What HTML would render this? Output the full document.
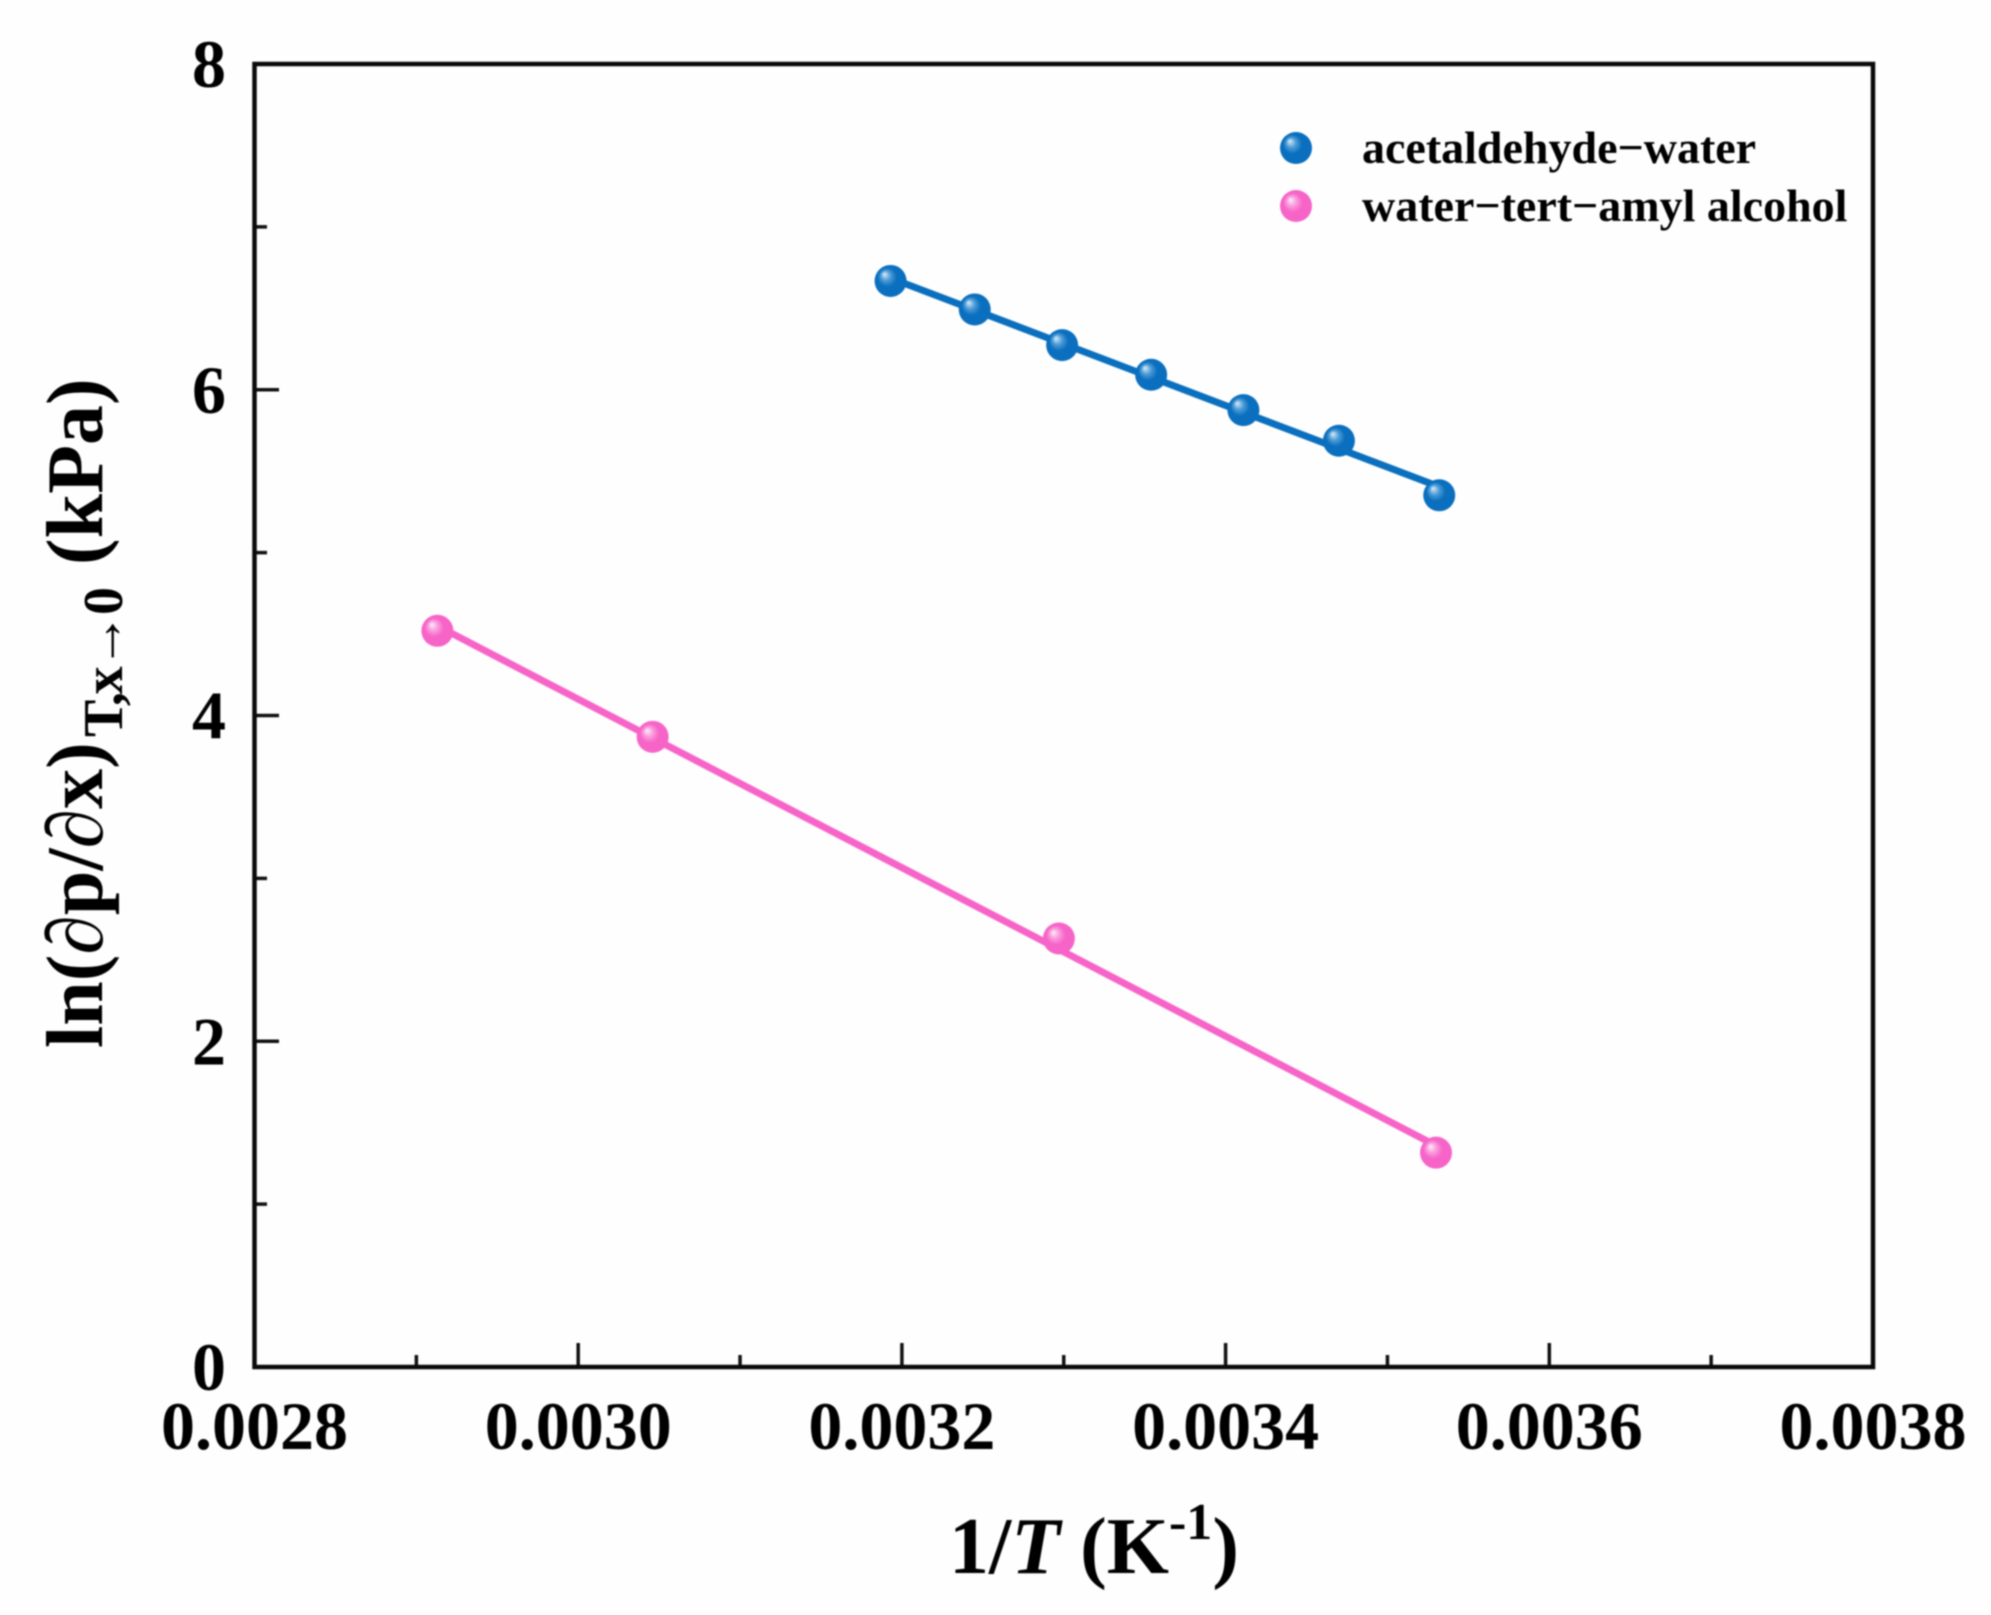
<!DOCTYPE html>
<html lang="en">
<head>
<meta charset="utf-8">
<title>ln(∂p/∂x) vs 1/T</title>
<style>
html,body{margin:0;padding:0;background:#fefefe;}
svg{display:block;width:1991px;height:1615px;filter:blur(0.8px);}
text{font-family:"Liberation Serif",serif;font-weight:bold;fill:#000;}
</style>
</head>
<body>
<svg id="chart" xmlns="http://www.w3.org/2000/svg" width="1991" height="1615" viewBox="0 0 1991 1615">
  <defs>
    <radialGradient id="blue-ball" cx="0.5" cy="0.5" fx="0.3" fy="0.28" r="0.62">
      <stop offset="0" stop-color="#dceefa"/>
      <stop offset="0.25" stop-color="#4d9bd6"/>
      <stop offset="0.48" stop-color="#0a6fbe"/>
      <stop offset="1" stop-color="#0a6fbe"/>
    </radialGradient>
    <radialGradient id="pink-ball" cx="0.5" cy="0.5" fx="0.32" fy="0.3" r="0.62">
      <stop offset="0" stop-color="#fdeef9"/>
      <stop offset="0.25" stop-color="#fa9adc"/>
      <stop offset="0.48" stop-color="#f764c8"/>
      <stop offset="1" stop-color="#f764c8"/>
    </radialGradient>
  </defs>
  <rect width="1991" height="1615" fill="#fefefe"/>
  <g id="ticks"></g>
  <g id="series"></g>
  <rect x="254.5" y="64" width="1618.5" height="1303" fill="none" stroke="#0a0a0a" stroke-width="4.5"/>
  <g id="tick-labels" font-size="68"></g>

  <text x="949" y="1573" font-size="80">1/<tspan font-style="italic">T</tspan> (K<tspan font-size="52" dy="-34">-1</tspan><tspan dy="34">)</tspan></text>

  <g transform="translate(102,1048) rotate(-90)">
    <text x="0" y="0" font-size="80">ln(<tspan font-style="italic">∂</tspan>p/<tspan font-style="italic">∂</tspan>x)</text>
    <text x="311" y="20" font-size="56" textLength="150" lengthAdjust="spacing">T,x→0</text>
    <text x="483" y="0" font-size="80">(kPa)</text>
  </g>

  <g>
    <circle cx="1296" cy="148" r="16" fill="url(#blue-ball)"/>
    <text x="1362" y="163" font-size="46">acetaldehyde−water</text>
    <circle cx="1296" cy="206" r="16" fill="url(#pink-ball)"/>
    <text x="1362" y="221" font-size="46">water−tert−amyl alcohol</text>
  </g>
</svg>
<script>
const xTickValues = [0.0028, 0.0030, 0.0032, 0.0034, 0.0036, 0.0038];
const xTickLabels = ["0.0028", "0.0030", "0.0032", "0.0034", "0.0036", "0.0038"];
const xMinorValues = [0.0029, 0.0031, 0.0033, 0.0035, 0.0037];
const yTickValues = [0, 2, 4, 6, 8];
const yTickLabels = ["0", "2", "4", "6", "8"];
const yMinorValues = [1, 3, 5, 7];

const acetaldehydeX = [0.003193, 0.003245, 0.003299, 0.003354, 0.003411, 0.003470, 0.003532];
const acetaldehydeY = [6.668, 6.493, 6.274, 6.092, 5.875, 5.687, 5.352];
const amylAlcoholX = [0.002913, 0.003046, 0.003297, 0.003530];
const amylAlcoholY = [4.520, 3.869, 2.631, 1.316];

const SVG_NS = "http://www.w3.org/2000/svg";
function xScale(v) { return 254.5 + (v - 0.0028) / 0.001 * 1618.5; }
function yScale(v) { return 1367 - v / 8 * 1303; }
function make(parent, tag, attrs) {
  const el = document.createElementNS(SVG_NS, tag);
  for (const k in attrs) el.setAttribute(k, attrs[k]);
  parent.appendChild(el);
  return el;
}
function fit(xs, ys) {
  const n = xs.length;
  const mx = xs.reduce((a, b) => a + b, 0) / n;
  const my = ys.reduce((a, b) => a + b, 0) / n;
  let sxy = 0, sxx = 0;
  for (let i = 0; i < n; i++) { sxy += (xs[i] - mx) * (ys[i] - my); sxx += (xs[i] - mx) * (xs[i] - mx); }
  const m = sxy / sxx;
  return function (x) { return my + m * (x - mx); };
}

const tickLayer = document.getElementById("ticks");
const labelLayer = document.getElementById("tick-labels");
const seriesLayer = document.getElementById("series");

xTickValues.forEach(function (v, i) {
  const t = make(tickLayer, "line", { x1: xScale(v), x2: xScale(v), y1: 1367, y2: 1343, stroke: "#111", "stroke-width": 3.5 });
  
  
  const l = make(labelLayer, "text", { x: xScale(v), y: 1449, "text-anchor": "middle" });
  
  
  l.textContent = xTickLabels[i];
});
xMinorValues.forEach(function (v) {
  const t = make(tickLayer, "line", { x1: xScale(v), x2: xScale(v), y1: 1367, y2: 1355, stroke: "#111", "stroke-width": 3.5 });
  
  
});
yTickValues.forEach(function (v, i) {
  const t = make(tickLayer, "line", { x1: 254.5, x2: 279, y1: yScale(v), y2: yScale(v), stroke: "#111", "stroke-width": 3.5 });
  
  
  const l = make(labelLayer, "text", { x: 226, y: yScale(v) + 23, "text-anchor": "end" });
  
  
  l.textContent = yTickLabels[i];
});
yMinorValues.forEach(function (v) {
  const t = make(tickLayer, "line", { x1: 254.5, x2: 267, y1: yScale(v), y2: yScale(v), stroke: "#111", "stroke-width": 3.5 });
  
  
});

function drawSeries(xs, ys, color, gradient, name) {
  const f = fit(xs, ys);
  const first = xs[0], last = xs[xs.length - 1];
  const line = make(seriesLayer, "line", {
    x1: xScale(first), y1: yScale(f(first)), x2: xScale(last), y2: yScale(f(last)),
    stroke: color, "stroke-width": 7
  });
  
  
  xs.forEach(function (x, i) {
    const c = make(seriesLayer, "circle", { cx: xScale(x), cy: yScale(ys[i]), r: 16, fill: "url(#" + gradient + ")" });
    
    
    c.setAttribute('data-series', name);
  });
}
drawSeries(acetaldehydeX, acetaldehydeY, "#0a6fbe", "blue-ball", "acetaldehyde-water");
drawSeries(amylAlcoholX, amylAlcoholY, "#f764c8", "pink-ball", "water-tert-amyl-alcohol");
</script>
</body>
</html>
